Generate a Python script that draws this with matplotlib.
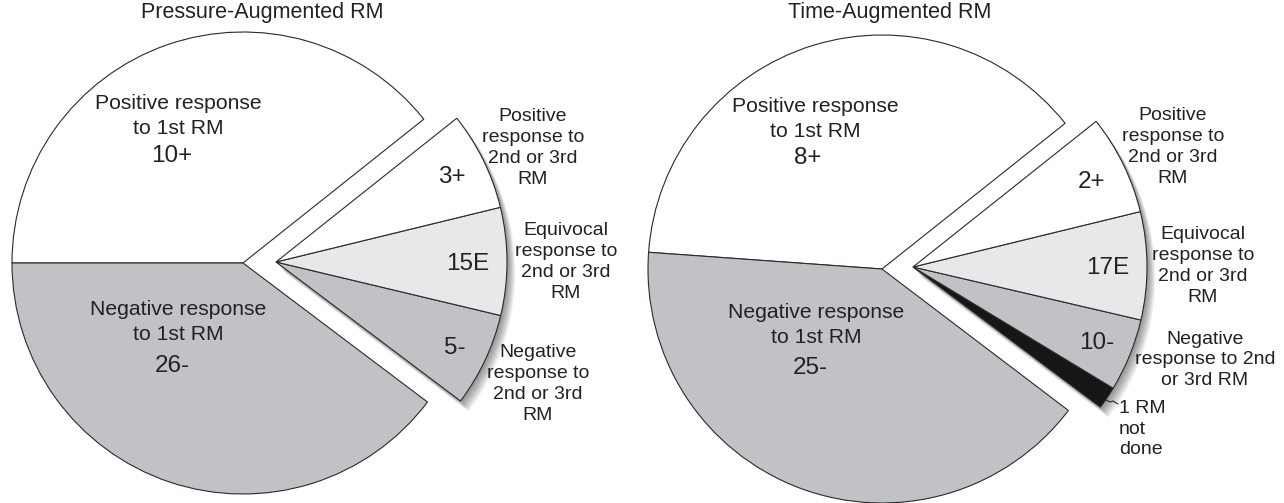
import matplotlib
matplotlib.use("Agg")
import matplotlib.pyplot as plt
from matplotlib.patches import Wedge
import numpy as np

plt.rcParams['font.family'] = ['Liberation Sans', 'DejaVu Sans']

# ---------------- data ----------------
titles = ["Pressure-Augmented RM", "Time-Augmented RM"]

# main pie: angular share (degrees) of [positive 1st RM, negative 1st RM, exploded group]
main_labels = ["Positive response\nto 1st RM", "Negative response\nto 1st RM"]
left_main_counts = ["10+", "26-"]
right_main_counts = ["8+", "25-"]
left_main_deg = [141.5, 143.0, 75.5]
right_main_deg = [137.4, 146.9, 75.7]
left_main_start = 38.5
right_main_start = 38.5

# exploded group (listed counter-clockwise from bottom)
left_group_counts = ["5-", "15E", "3+"]
left_group_deg = [23.6, 27.1, 24.8]
left_group_labels = ["Negative\nresponse to\n2nd or 3rd\nRM",
                     "Equivocal\nresponse to\n2nd or 3rd\nRM",
                     "Positive\nresponse to\n2nd or 3rd\nRM"]
left_group_start = -37.0

right_group_counts = ["", "10-", "17E", "2+"]
right_group_deg = [5.6, 18.1, 26.8, 24.8]
right_group_labels = ["1 RM\nnot\ndone",
                      "Negative\nresponse to 2nd\nor 3rd RM",
                      "Equivocal\nresponse to\n2nd or 3rd\nRM",
                      "Positive\nresponse to\n2nd or 3rd\nRM"]
right_group_start = -36.8

WHITE = "#ffffff"
LIGHT = "#e7e8ea"
GRAY = "#c1c2c5"
BLACK = "#161616"
EDGE = "#2a2a2a"
TXT = "#222222"

main_colors = [WHITE, GRAY]
left_group_colors = [GRAY, LIGHT, WHITE]
right_group_colors = [BLACK, GRAY, LIGHT, WHITE]

W, H = 1284, 503
fig = plt.figure(figsize=(W / 100, H / 100), dpi=100)
ax = fig.add_axes([0, 0, 1, 1])


def draw(center, radius, main_deg, main_start, group_center, group_deg, group_start,
         group_colors):
    # main pie
    wedges, _ = ax.pie(main_deg, center=center, radius=radius, startangle=main_start,
                       counterclock=True, colors=main_colors + [WHITE],
                       wedgeprops=dict(edgecolor=EDGE, linewidth=0.8), frame=True)
    wedges[-1].set_visible(False)
    # soft, down-right shadow of the exploded group
    total = sum(group_deg)
    for k in range(1, 15):
        sh = Wedge((group_center[0] + 0.6 * k, group_center[1] - 0.75 * k), radius,
                   group_start, group_start + total, facecolor=(0, 0, 0, 0.035),
                   edgecolor='none', zorder=0.5)
        ax.add_patch(sh)
    rest = 360 - total
    gw, _ = ax.pie(list(group_deg) + [rest], center=group_center, radius=radius,
                   startangle=group_start, counterclock=True,
                   colors=list(group_colors) + [WHITE],
                   wedgeprops=dict(edgecolor=EDGE, linewidth=0.8), frame=True)
    gw[-1].set_visible(False)
    for w in list(wedges) + list(gw):
        w.set_zorder(2)


# left pie
draw((243, 240), 231, left_main_deg, left_main_start, (276, 241), left_group_deg,
     left_group_start, left_group_colors)
# right pie
draw((882, 234), 234, right_main_deg, right_main_start, (913, 236), right_group_deg,
     right_group_start, right_group_colors)

ax.set_xlim(0, W)
ax.set_ylim(0, H)
ax.set_aspect('equal')
ax.axis('off')


def T(x, y, s, size, ha='center', **kw):
    ax.text(x, H - y, s, fontsize=size, ha=ha, va='center', color=TXT,
            zorder=5, **kw)


MAIN = 15.2
NUM = 17.5
SIDE = 14.0
LS_SIDE = 1.3
LS_MAIN = 1.35

# titles
T(262, 12, titles[0], 15.5)
T(890, 12, titles[1], 15.5)

# main labels
T(178, 116, main_labels[0], MAIN, linespacing=LS_MAIN)
T(172, 156, left_main_counts[0], NUM)
T(178, 322, main_labels[1], MAIN, linespacing=LS_MAIN)
T(172, 366, left_main_counts[1], NUM)

T(815, 119, main_labels[0], MAIN, linespacing=LS_MAIN)
T(808, 158, right_main_counts[0], NUM)
T(816, 325, main_labels[1], MAIN, linespacing=LS_MAIN)
T(810, 368, right_main_counts[1], NUM)

# group counts
T(455, 348, left_group_counts[0], NUM)
T(468, 264, left_group_counts[1], NUM)
T(452, 177, left_group_counts[2], NUM)

T(1097, 343, right_group_counts[1], NUM)
T(1108, 268, right_group_counts[2], NUM)
T(1092, 182, right_group_counts[3], NUM)

# side labels
T(538, 384, left_group_labels[0], SIDE, linespacing=LS_SIDE)
T(566, 262, left_group_labels[1], SIDE, linespacing=LS_SIDE)
T(533, 148, left_group_labels[2], SIDE, linespacing=LS_SIDE)

T(1205, 360, right_group_labels[1], SIDE, linespacing=LS_SIDE)
T(1203, 266, right_group_labels[2], SIDE, linespacing=LS_SIDE)
T(1173, 147, right_group_labels[3], SIDE, linespacing=LS_SIDE)
T(1119, 429, right_group_labels[0], SIDE, ha='left', linespacing=LS_SIDE)
ax.plot([1106, 1110, 1113, 1118], [H - 400, H - 402, H - 401, H - 404], color=EDGE,
        lw=0.8, zorder=5)

fig.savefig("out.png", dpi=100)
